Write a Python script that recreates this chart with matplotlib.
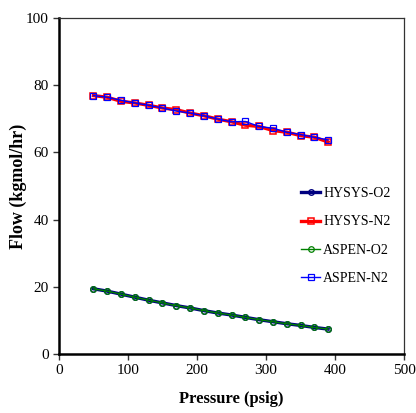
import matplotlib
matplotlib.use("Agg")
import matplotlib.pyplot as plt

plt.rcParams['font.family'] = ['Liberation Serif', 'DejaVu Serif']

# pressure steps (psig)
pressure = [50, 70, 90, 110, 130, 150, 170, 190, 210, 230,
            250, 270, 290, 310, 330, 350, 370, 390]

# flows (kgmol/hr)
hysys_o2 = [19.4, 18.7, 17.8, 16.9, 16.0, 15.2, 14.4, 13.7, 12.9, 12.2,
            11.6, 10.9, 10.2, 9.6, 9.0, 8.5, 7.9, 7.4]
hysys_n2 = [76.9, 76.4, 75.2, 74.7, 74.0, 73.2, 72.7, 71.7, 70.9, 69.9,
            69.1, 68.1, 67.7, 66.5, 66.0, 65.0, 64.5, 63.1]
aspen_o2 = [19.4, 18.7, 17.8, 16.9, 16.0, 15.2, 14.4, 13.7, 12.9, 12.2,
            11.6, 10.9, 10.2, 9.6, 9.0, 8.5, 7.9, 7.4]
aspen_n2 = [76.9, 76.4, 75.5, 74.7, 74.0, 73.2, 72.3, 71.7, 70.9, 69.9,
            69.1, 69.2, 67.7, 67.2, 66.0, 65.3, 64.5, 63.7]

x_ticks = [0, 100, 200, 300, 400, 500]
y_ticks = [0, 20, 40, 60, 80, 100]

fig = plt.figure(figsize=(4.16, 4.13), dpi=100)
ax = fig.add_axes([0.1418, 0.1429, 0.8294, 0.8136])

ax.plot(pressure, hysys_o2, color='#000080', lw=2.4, marker='o', ms=4,
        mfc='none', mew=1.0, label='HYSYS-O2')
ax.plot(pressure, hysys_n2, color='#ff0000', lw=2.4, marker='s', ms=4.5,
        mfc='none', mew=1.1, label='HYSYS-N2')
ax.plot(pressure, aspen_o2, color='#008000', lw=1.0, marker='o', ms=4,
        mfc='none', mew=0.9, label='ASPEN-O2')
ax.plot(pressure, aspen_n2, color='#0000ff', lw=1.0, marker='s', ms=4.5,
        mfc='none', mew=0.9, label='ASPEN-N2')

ax.set_xlim(0, 500)
ax.set_ylim(0, 100)
ax.set_xticks(x_ticks)
ax.set_yticks(y_ticks)
ax.tick_params(direction='out', length=4, width=1, labelsize=11, color='#333333')

for side in ['left', 'bottom']:
    ax.spines[side].set_linewidth(1.8)
    ax.spines[side].set_color('black')
for side in ['top', 'right']:
    ax.spines[side].set_linewidth(0.9)
    ax.spines[side].set_color('#333333')

ax.set_xlabel('Pressure (psig)', fontsize=12, fontweight='bold', labelpad=10)
ax.set_ylabel('Flow (kgmol/hr)', fontsize=13, fontweight='bold')
ax.yaxis.set_label_coords(-0.093, 0.5)

ax.legend(loc='center left', bbox_to_anchor=(0.665, 0.351), frameon=False,
          fontsize=10, handlelength=1.4, handletextpad=0.2, labelspacing=1.1)

fig.savefig('out.png', dpi=100)
